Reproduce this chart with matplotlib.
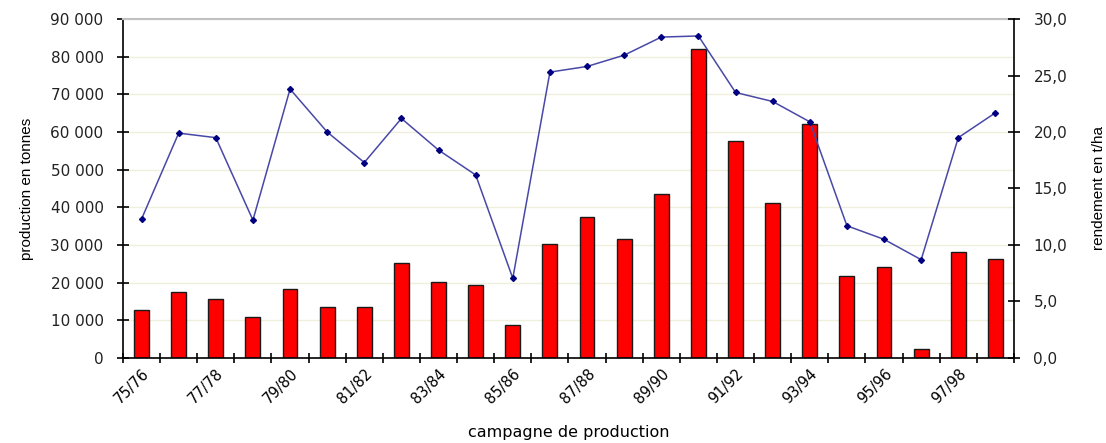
import numpy as np
import matplotlib.pyplot as plt
from matplotlib.ticker import FuncFormatter, FixedLocator

campagnes = ['75/76', '76/77', '77/78', '78/79', '79/80', '80/81', '81/82', '82/83',
             '83/84', '84/85', '85/86', '86/87', '87/88', '88/89', '89/90', '90/91',
             '91/92', '92/93', '93/94', '94/95', '95/96', '96/97', '97/98', '98/99']
production = [12800, 17600, 15700, 11000, 18300, 13600, 13600, 25100,
              20200, 19300, 8700, 30200, 37500, 31600, 43500, 82000,
              57600, 41100, 62100, 21700, 24200, 2500, 28100, 26300]
rendement = [12.3, 19.9, 19.5, 12.2, 23.8, 20.0, 17.3, 21.2,
             18.4, 16.2, 7.05, 25.3, 25.8, 26.8, 28.4, 28.5,
             23.5, 22.7, 20.9, 11.7, 10.5, 8.7, 19.5, 21.7]

x = np.arange(len(campagnes))

fig = plt.figure(figsize=(11.06, 4.43), dpi=100)
ax = fig.add_axes([0.1112, 0.1919, 0.8056, 0.7652])

ax.bar(x, production, width=0.4, color='#ff0000', edgecolor='#1a1a1a', linewidth=1, zorder=2)
ax.set_xlim(-0.5, len(campagnes) - 0.5)
ax.set_ylim(0, 90000)
ax.set_yticks(np.arange(0, 90001, 10000))
ax.yaxis.set_major_formatter(FuncFormatter(lambda v, p: f"{int(v):,}".replace(',', ' ')))
ax.yaxis.grid(True, color='#efefdc', linewidth=1, zorder=0)
ax.set_axisbelow(True)

# labels every other campaign, ticks between the bars
ax.set_xticks(x[::2])
ax.set_xticklabels(campagnes[::2], rotation=45, ha='right', rotation_mode='anchor', fontsize=10.5)
ax.xaxis.set_minor_locator(FixedLocator(np.arange(-0.5, len(campagnes), 1)))
ax.tick_params(axis='x', which='major', length=0, pad=6)
ax.tick_params(axis='x', which='minor', direction='inout', length=7, width=1.2)
ax.tick_params(axis='y', direction='inout', length=8, width=1.2, labelsize=11, pad=10,
               labelcolor='#222222')

ax.spines['top'].set_color('#c0c0c0')
ax.spines['top'].set_linewidth(1.5)
ax.spines['right'].set_visible(False)
ax.spines['left'].set_linewidth(1.2)
ax.spines['bottom'].set_linewidth(1.2)

ax.set_ylabel('production en tonnes', family='Liberation Sans', fontsize=11, labelpad=12)
ax.set_xlabel('campagne de production', fontsize=11.5, labelpad=13)

ax2 = ax.twinx()
ax2.plot(x, rendement, color='#4848a8', linewidth=1.1, marker='D', markersize=3,
         markerfacecolor='#000080', markeredgecolor='#000080')
ax2.set_ylim(0, 30)
ax2.set_yticks(np.arange(0, 30.1, 5))
ax2.yaxis.set_major_formatter(FuncFormatter(lambda v, p: f"{v:.1f}".replace('.', ',')))
ax2.tick_params(axis='y', direction='inout', length=8, width=1.2, labelsize=11, pad=10,
                labelcolor='#222222')
ax2.spines['top'].set_visible(False)
ax2.spines['left'].set_visible(False)
ax2.spines['bottom'].set_visible(False)
ax2.spines['right'].set_linewidth(1.2)
ax2.set_ylabel('rendement en t/ha', family='Liberation Sans', fontsize=11, labelpad=18)

fig.savefig('out.png', dpi=100)
